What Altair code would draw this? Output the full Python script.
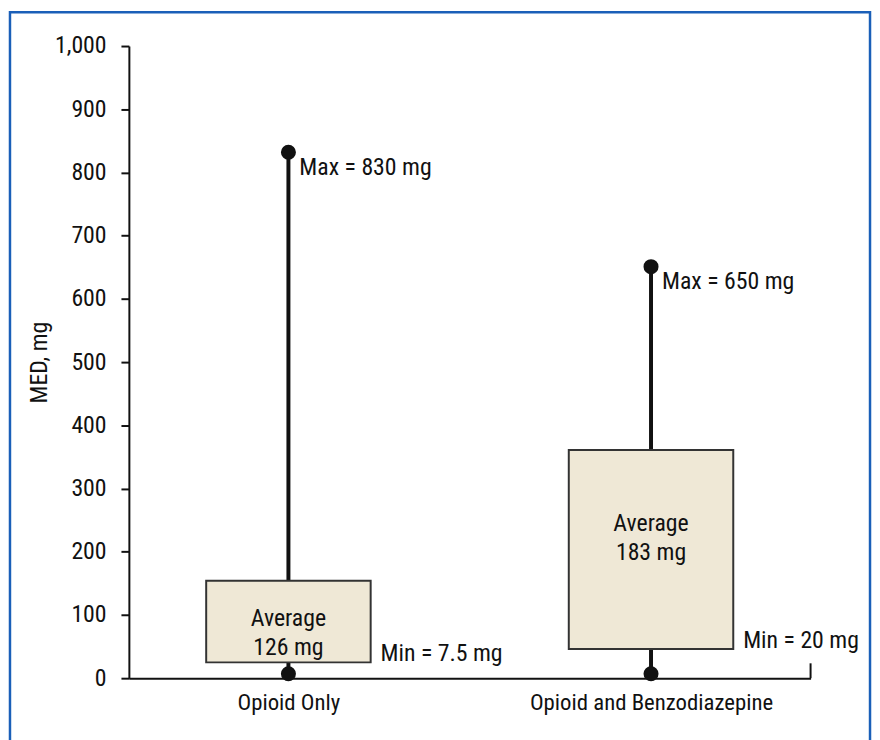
import altair as alt
import pandas as pd

# ---- data ----
categories = ["Opioid Only", "Opioid and Benzodiazepine"]
box_low = [25, 46]          # bottom of the shaded box (MED, mg)
box_high = [154, 361]       # top of the shaded box
whisker_min = [7, 7]        # lower dot
whisker_max = [832, 651]    # upper dot
max_labels = ["Max = 830 mg", "Max = 650 mg"]
min_labels = ["Min = 7.5 mg", "Min = 20 mg"]
avg_labels = ["Average\n126 mg", "Average\n183 mg"]
avg_label_y = [93, 244]     # where the average text sits on the y scale
y_ticks = [0, 100, 200, 300, 400, 500, 600, 700, 800, 900, 1000]

df = pd.DataFrame({
    "category": categories,
    "low": box_low,
    "high": box_high,
    "wmin": whisker_min,
    "wmax": whisker_max,
    "max_label": max_labels,
    "min_label": min_labels,
    "avg_label": avg_labels,
    "avg_y": avg_label_y,
})

FONT = "Liberation Sans Narrow, Arial Narrow, Roboto Condensed, Roboto, sans-serif"
INK = "#111111"
W, H = 688, 638

x_enc = alt.X(
    "category:N",
    sort=categories,
    scale=alt.Scale(type="point", padding=0.44),
    axis=alt.Axis(
        title=None, ticks=False, labelPadding=14, labelAngle=0, labelLimit=0,
        labelFont=FONT, labelFontSize=23, labelColor=INK,
        domainColor=INK, domainWidth=2,
    ),
)
y_scale = alt.Scale(domain=[0, 1000], nice=False, zero=True)
y_axis = alt.Axis(
    title="MED, mg", values=y_ticks, format=",.0f", grid=False,
    tickSize=8, tickWidth=2, tickColor=INK,
    domainWidth=2, domainColor=INK,
    labelPadding=15, labelFont=FONT, labelFontSize=24, labelColor=INK,
    titleFont=FONT, titleFontSize=24, titleFontWeight="normal", titleColor=INK,
    titleX=-90, titleY=H / 2, titleAngle=270, titleAlign="center", titleBaseline="middle",
)

base = alt.Chart(df)

frame = alt.Chart(pd.DataFrame({"f": [0]})).mark_rect(
    fillOpacity=0, stroke="#1a5fb8", strokeWidth=2.5
).encode(
    x=alt.value(-120), x2=alt.value(748), y=alt.value(-34), y2=alt.value(780)
)

whisker = base.mark_rule(strokeWidth=4, color=INK).encode(
    x=x_enc,
    y=alt.Y("wmin:Q", scale=y_scale, axis=y_axis),
    y2="wmax:Q",
)

box = base.mark_bar(width=166, fill="#EFE8D6", stroke="#333333", strokeWidth=2).encode(
    x=x_enc, y="low:Q", y2="high:Q"
)

dots = base.transform_fold(["wmin", "wmax"], as_=["which", "val"]).mark_circle(
    size=230, color=INK, opacity=1
).encode(x=x_enc, y="val:Q")

max_text = base.mark_text(
    align="left", baseline="middle", dx=11, dy=16, font=FONT, fontSize=24, color=INK
).encode(x=x_enc, y="wmax:Q", text="max_label:N")

min_text = base.mark_text(
    align="left", baseline="alphabetic", dx=93, dy=-1, font=FONT, fontSize=24, color=INK
).encode(x=x_enc, y="low:Q", text="min_label:N")

avg_text = base.mark_text(
    align="center", baseline="middle", lineBreak="\n", lineHeight=29,
    font=FONT, fontSize=24, color=INK
).encode(x=x_enc, y="avg_y:Q", text="avg_label:N")

end_tick = alt.Chart(pd.DataFrame({"f": [0]})).mark_rule(strokeWidth=2, color=INK).encode(
    x=alt.value(W), y=alt.value(H - 15), y2=alt.value(H)
)

chart = alt.layer(
    frame, whisker, box, dots, max_text, min_text, avg_text, end_tick
).properties(
    width=W, height=H,
    padding={"left": 122, "top": 35, "right": 62, "bottom": 59},
    autosize=alt.AutoSizeParams(type="none"),
    background="white",
).configure_view(stroke=None)

chart.save("out.html", embed_options={"renderer": "svg", "actions": False})
